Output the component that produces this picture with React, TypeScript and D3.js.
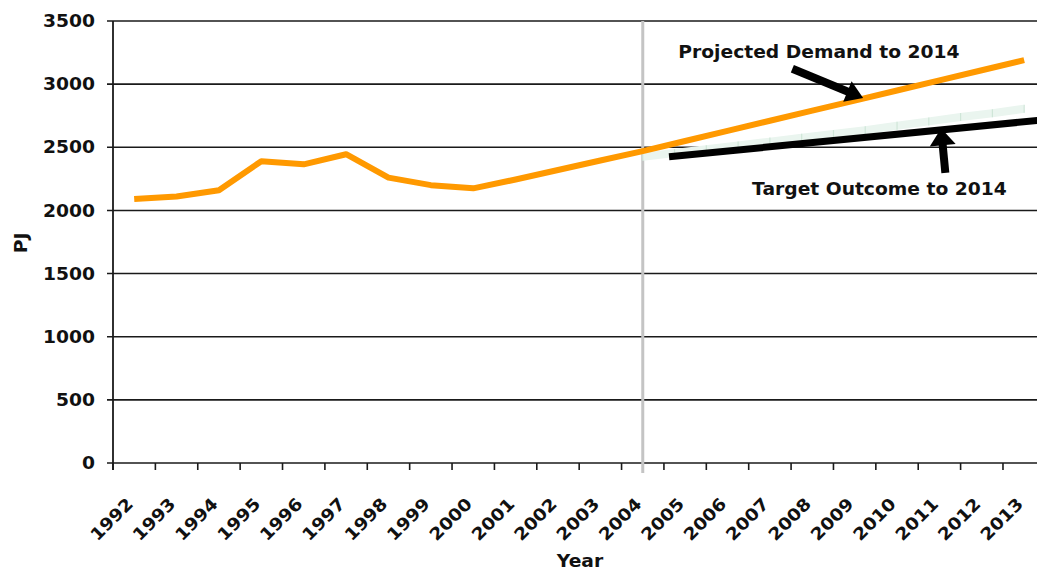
import React from "react";
import * as d3 from "d3";

const years = ["1992","1993","1994","1995","1996","1997","1998","1999","2000","2001","2002","2003","2004","2005","2006","2007","2008","2009","2010","2011","2012","2013"];
const demand = [2090,2110,2160,2390,2365,2445,2260,2200,2175,2245,2320,2395,2470,2550,2630,2710,2790,2870,2950,3030,3110,3190];
// pale band series (13 points spread evenly from 2004 to 2013)
const bandValues = [2425,2455,2485,2515,2545,2575,2605,2635,2670,2705,2740,2770,2805];
const bandRange = [2004, 2013];
// target outcome line (year, value)
const targetYears = [2004.62, 2014];
const targetValues = [2425, 2735];
const yTicks = [0,500,1000,1500,2000,2500,3000,3500];
const splitYear = 2004;
// annotations in data coordinates
const projArrow = { from: [2007.53, 3122], to: [2009.2, 2890] };
const targArrow = { from: [2011.14, 2298], to: [2011.04, 2650] };
const projLabel = { text: "Projected Demand to 2014", year: 2004.84, value: 3209 };
const targLabel = { text: "Target Outcome to 2014", year: 2006.58, value: 2124 };

const W = 1037, H = 572;
const left = 113, top = 21, bottom = 463, step = 42.38;
const FONT = "'DejaVu Sans', 'Liberation Sans', Arial, sans-serif";
const SX = 1.1;

export default function App() {
  const x = d3.scaleBand<string>().domain(years).range([left, left + years.length * step]);
  const cx = (yr: string) => (x(yr) as number) + x.bandwidth() / 2;
  const xl = d3.scaleLinear().domain([1992, 2013]).range([cx("1992"), cx("2013")]);
  const y = d3.scaleLinear().domain([0, 3500]).range([bottom, top]);
  const right = left + years.length * step;

  const line = d3.line<number>().x((_, i) => cx(years[i])).y((d) => y(d));
  const bandX = d3.scaleLinear().domain([0, bandValues.length - 1]).range(bandRange);
  const bandPts = bandValues.map((v, i) => [xl(bandX(i)), y(v)] as [number, number]);
  const bandLine = d3.line()(bandPts);
  const tgt = d3.line()(targetYears.map((yr, i) => [xl(yr), y(targetValues[i])] as [number, number]));

  const arrow = (a: { from: number[]; to: number[] }, headLen: number, headW: number, shaft: number) => {
    const x1 = xl(a.from[0]), y1 = y(a.from[1]), x2 = xl(a.to[0]), y2 = y(a.to[1]);
    const ang = Math.atan2(y2 - y1, x2 - x1);
    const bx = x2 - headLen * Math.cos(ang), by = y2 - headLen * Math.sin(ang);
    const px = -Math.sin(ang), py = Math.cos(ang);
    const head = `M${x2},${y2}L${bx + px * headW},${by + py * headW}L${bx - px * headW},${by - py * headW}Z`;
    return (
      <g>
        <line x1={x1} y1={y1} x2={bx + 2 * Math.cos(ang)} y2={by + 2 * Math.sin(ang)} stroke="#000" strokeWidth={shaft} />
        <path d={head} fill="#000" />
      </g>
    );
  };

  return (
    <svg width={W} height={H} style={{ position: "absolute", left: 0, top: 0, background: "#fff" }} fontFamily={FONT}>
      {/* gridlines */}
      {yTicks.map((t) => (
        <line key={t} x1={left - 6} x2={right} y1={y(t)} y2={y(t)} stroke="#1a1a1a" strokeWidth={1.6} />
      ))}
      {/* y labels */}
      {yTicks.map((t) => (
        <text key={"l" + t} transform={`translate(95,${y(t)}) scale(${SX},1)`} dy="0.36em" textAnchor="end" fontSize={17} fontWeight="bold" fill="#111">{t}</text>
      ))}
      {/* y axis */}
      <line x1={left} x2={left} y1={top} y2={bottom + 7} stroke="#1a1a1a" strokeWidth={1.8} />
      {/* x ticks */}
      {years.map((yr) => (
        <line key={"t" + yr} x1={x(yr) as number} x2={x(yr) as number} y1={bottom} y2={bottom + 7} stroke="#1a1a1a" strokeWidth={1.6} />
      ))}
      {/* x labels */}
      {years.map((yr) => (
        <text key={"x" + yr} transform={`translate(${cx(yr)},${505}) rotate(-45) scale(${SX},1)`} textAnchor="end" fontSize={17} fontWeight="bold" fill="#111">{yr}</text>
      ))}
      {/* split line */}
      <line x1={cx(String(splitYear))} x2={cx(String(splitYear))} y1={top} y2={bottom + 10} stroke="#c4c4c4" strokeWidth={3} />
      {/* pale band */}
      <path d={bandLine || ""} fill="none" stroke="#eaf5ef" strokeWidth={8} />
      {bandPts.map((p, i) => (
        <line key={"b" + i} x1={p[0]} x2={p[0]} y1={p[1] - 4} y2={p[1] + 4} stroke="#cfe6d8" strokeWidth={1.2} />
      ))}
      {/* demand */}
      <path d={line(demand) || ""} fill="none" stroke="#ff9900" strokeWidth={6} strokeLinejoin="round" />
      {/* target */}
      <path d={tgt || ""} fill="none" stroke="#000" strokeWidth={7} />
      {/* arrows */}
      {arrow(projArrow, 17, 11, 8)}
      {arrow(targArrow, 17, 13, 8)}
      {/* annotation labels */}
      <text transform={`translate(${xl(projLabel.year)},${y(projLabel.value)}) scale(${SX},1)`} fontSize={17} fontWeight="bold" fill="#111">{projLabel.text}</text>
      <text transform={`translate(${xl(targLabel.year)},${y(targLabel.value)}) scale(${SX},1)`} fontSize={17} fontWeight="bold" fill="#111">{targLabel.text}</text>
      {/* axis titles */}
      <text transform={`translate(${27},${243}) rotate(-90) scale(${SX},1)`} textAnchor="middle" fontSize={17} fontWeight="bold" fill="#111">PJ</text>
      <text transform={`translate(580,567) scale(${SX},1)`} textAnchor="middle" fontSize={17} fontWeight="bold" fill="#111">Year</text>
    </svg>
  );
}
